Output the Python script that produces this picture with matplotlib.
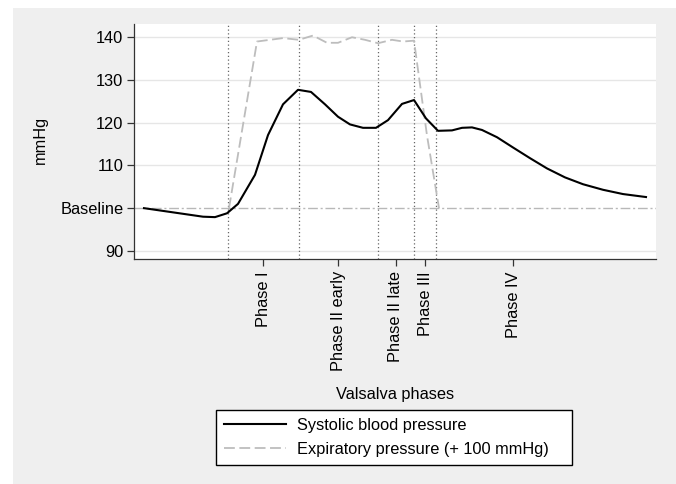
import matplotlib
matplotlib.use('Agg')
import matplotlib.pyplot as plt
from matplotlib.patches import Rectangle

plt.rcParams['font.family'] = ['Liberation Sans', 'DejaVu Sans']
plt.rcParams['font.size'] = 11.8

# time axis (s)
sys_t = [0, 5.9, 7.1, 8.3, 9.4, 11.1, 12.4, 13.9, 15.4, 16.7, 18.1, 19.4, 20.6, 21.9,
         23.2, 24.4, 25.8, 27.0, 28.2, 29.4, 30.8, 31.8, 32.8, 33.8, 35.3, 36.9, 38.6,
         40.3, 42.1, 43.9, 45.9, 47.9, 50.2]
sys_bp = [100.0, 98.0, 97.9, 98.8, 101.0, 107.8, 117.1, 124.3, 127.7, 127.2, 124.3,
          121.4, 119.6, 118.8, 118.8, 120.6, 124.4, 125.3, 121.0, 118.1, 118.2, 118.8,
          118.9, 118.3, 116.6, 114.2, 111.7, 109.3, 107.2, 105.6, 104.3, 103.3, 102.6]

exp_t = [8.5, 11.3, 13.9, 15.5, 16.9, 18.3, 19.4, 20.8, 22.1, 23.4, 24.8, 25.9, 27.0, 28.3, 29.5]
exp_p = [100, 139.0, 139.8, 139.4, 140.4, 138.7, 138.7, 140.0, 139.4, 138.6, 139.4,
         139.0, 139.2, 117, 100]

phase_bounds = [8.4, 15.5, 23.4, 27.0, 29.2]
phase_pos = [11.9, 19.4, 25.2, 28.1, 36.9]
phase_labels = ['Phase I', 'Phase II early', 'Phase II late', 'Phase III', 'Phase IV']

y_ticks = [90, 100, 110, 120, 130, 140]
y_labels = ['90', 'Baseline', '110', '120', '130', '140']

fig = plt.figure(figsize=(6.76, 4.84), dpi=100)
fig.patch.set_facecolor('white')
fig.patches.append(Rectangle((13 / 676, 0), 1, 1 - 8 / 484, transform=fig.transFigure,
                             facecolor='#efefef', edgecolor='none', zorder=-10))

ax = fig.add_axes([133.5 / 676, 1 - 259 / 484, (656 - 133.5) / 676, (259 - 24) / 484])
ax.set_facecolor('white')

for g in [90, 110, 120, 130, 140]:
    ax.axhline(g, color='#e6e6e6', lw=1, zorder=1)
ax.axhline(100, color='#b8b8b8', lw=1, linestyle=(0, (7, 2, 1.5, 2)), zorder=2)
for b in phase_bounds:
    ax.axvline(b, color='#666666', lw=0.9, linestyle=(0, (1, 2)), zorder=2)

ax.plot(sys_t, sys_bp, color='black', lw=1.5, zorder=4, label='Systolic blood pressure')
ax.plot(exp_t, exp_p, color='#bdbdbd', lw=1.3, linestyle=(0, (6, 2.5)), zorder=3,
        label='Expiratory pressure (+ 100 mmHg)')

ax.set_xlim(-1.05, 51.2)
ax.set_ylim(88.1, 143.1)
ax.set_yticks(y_ticks)
ax.set_yticklabels(y_labels)
ax.set_xticks(phase_pos)
ax.set_xticklabels(phase_labels, rotation=90)
ax.tick_params(axis='both', length=4.8, width=0.9, color='#333333')
ax.tick_params(axis='x', pad=4)
ax.tick_params(axis='y', pad=2.5)

for s in ['top', 'right']:
    ax.spines[s].set_visible(False)
for s in ['left', 'bottom']:
    ax.spines[s].set_color('#333333')
    ax.spines[s].set_linewidth(0.9)

ax.set_ylabel('mmHg')
ax.yaxis.set_label_coords(-0.163, 0.506)
ax.set_xlabel('Valsalva phases')
ax.xaxis.set_label_coords(0.5, -0.545)

leg = fig.legend(loc='upper left', mode='expand', borderaxespad=0,
                 bbox_to_anchor=(216 / 676, 1 - 464 / 484, 356 / 676, 54 / 484),
                 handlelength=3.8, handletextpad=0.65, borderpad=0.5, labelspacing=0.55,
                 fancybox=False, framealpha=1, edgecolor='black')
leg.get_frame().set_linewidth(1)

plt.savefig('out.png', dpi=100, facecolor=fig.get_facecolor())
